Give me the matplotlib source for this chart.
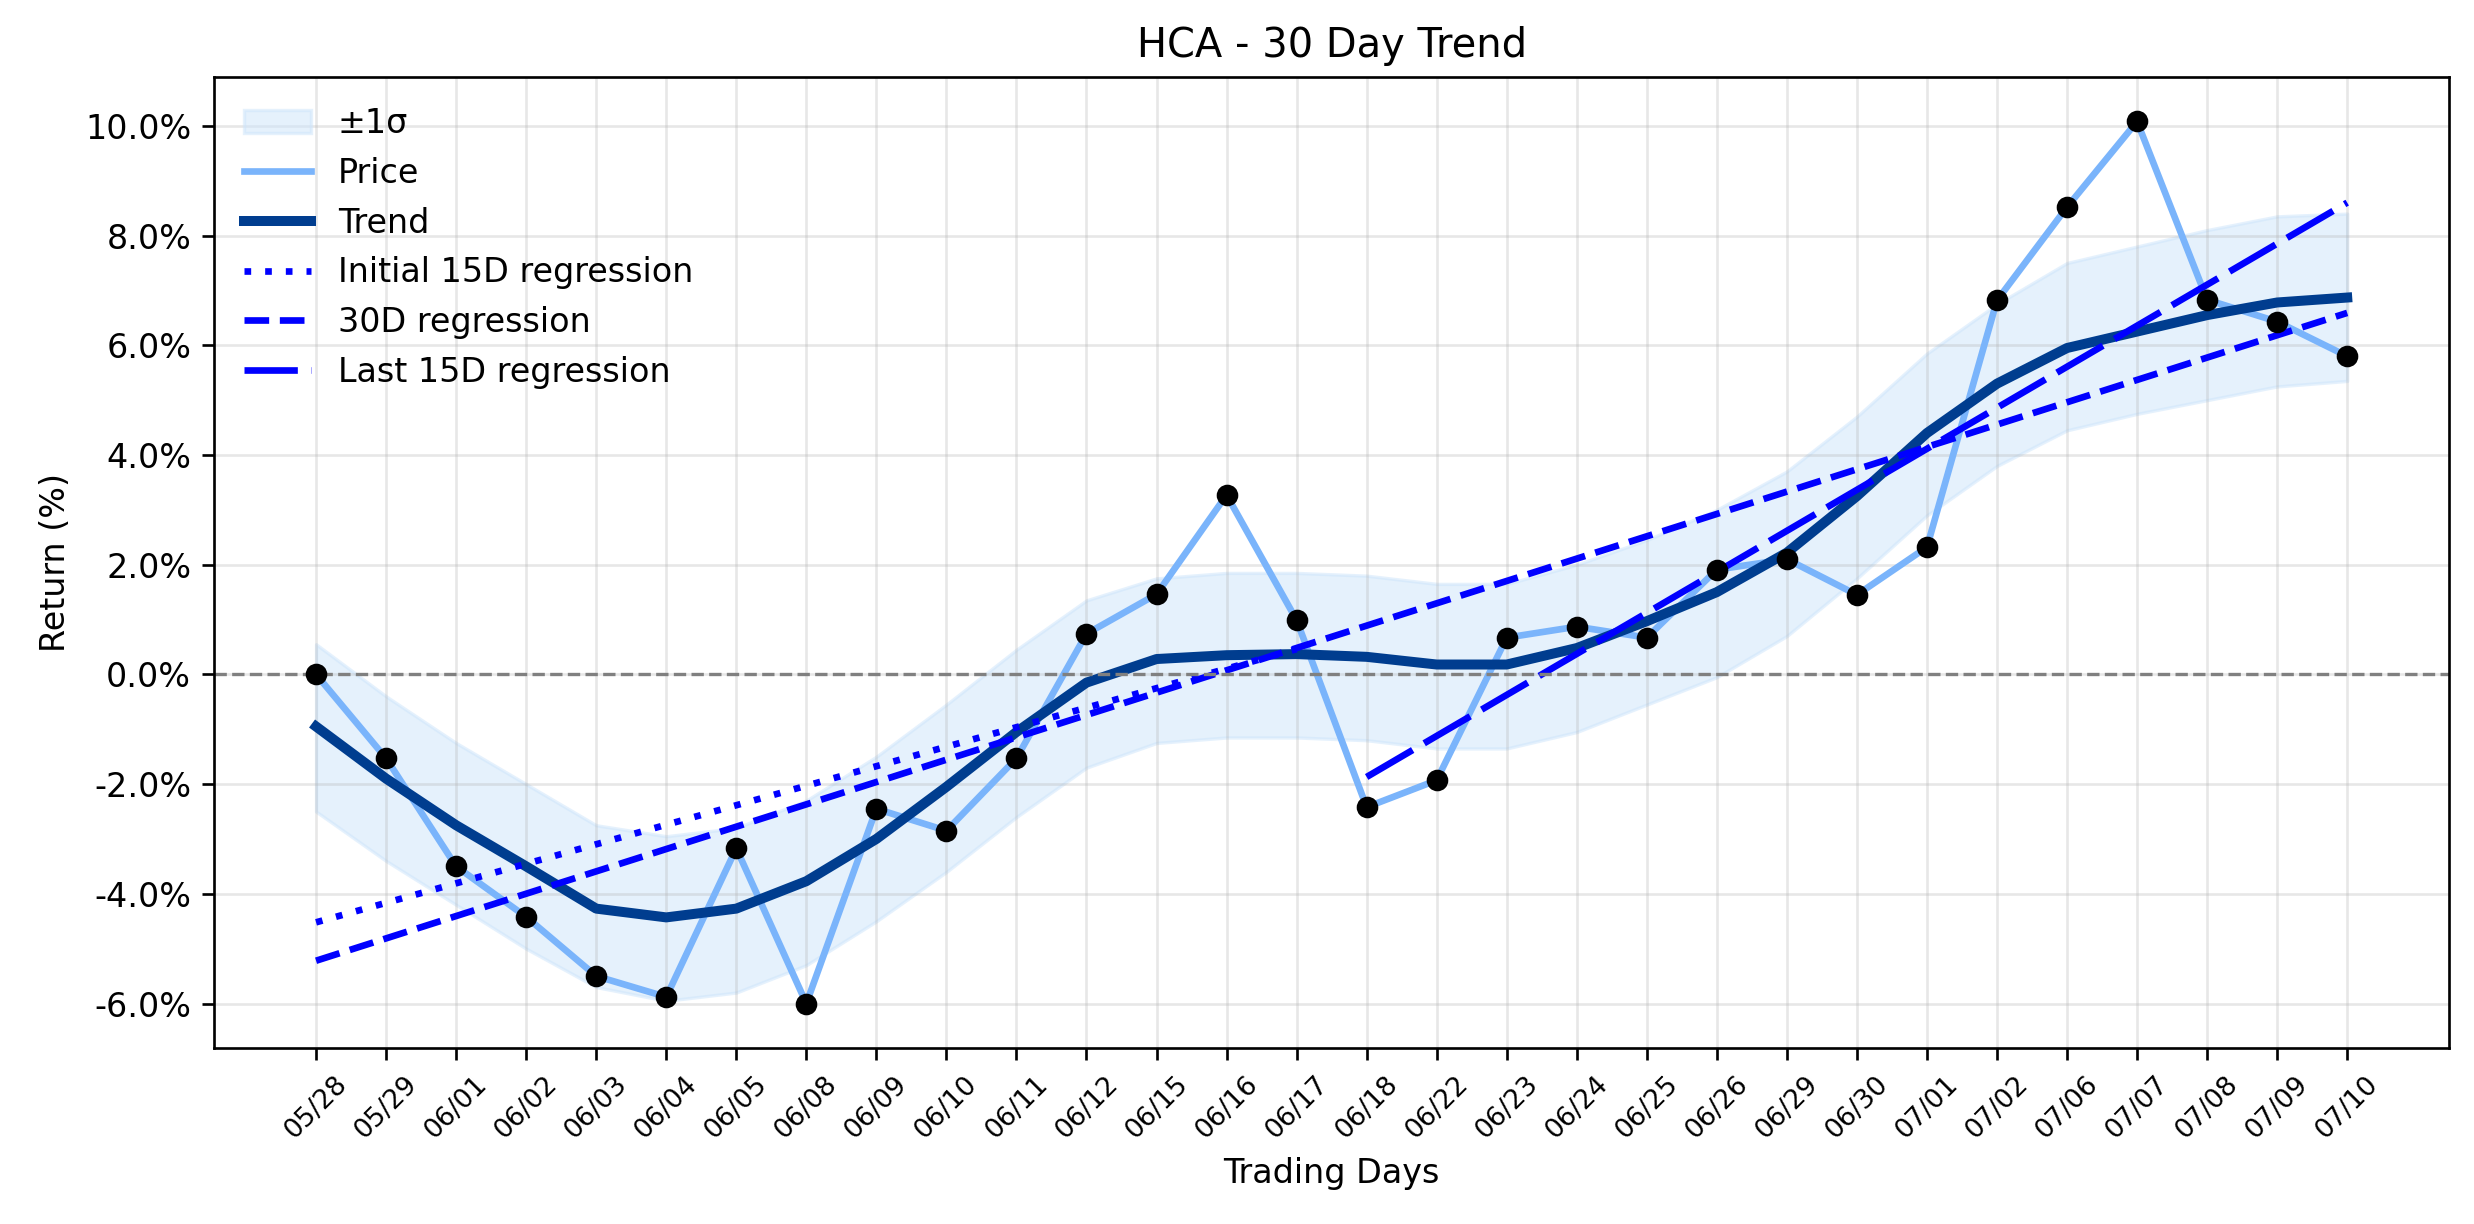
import numpy as np
import matplotlib
matplotlib.use("Agg")
import matplotlib.pyplot as plt
from matplotlib.ticker import FuncFormatter

dates = ['05/28', '05/29', '06/01', '06/02', '06/03', '06/04', '06/05', '06/08', '06/09', '06/10',
         '06/11', '06/12', '06/15', '06/16', '06/17', '06/18', '06/22', '06/23', '06/24', '06/25',
         '06/26', '06/29', '06/30', '07/01', '07/02', '07/06', '07/07', '07/08', '07/09', '07/10']

price = [0.00, -1.53, -3.50, -4.42, -5.50, -5.88, -3.17, -6.00, -2.45, -2.85,
         -1.53, 0.74, 1.46, 3.27, 0.99, -2.42, -1.93, 0.67, 0.87, 0.67,
         1.91, 2.10, 1.45, 2.32, 6.82, 8.52, 10.08, 6.83, 6.43, 5.80]

trend = [-0.95, -1.90, -2.75, -3.50, -4.27, -4.43, -4.27, -3.77, -3.00, -2.05,
         -1.05, -0.15, 0.28, 0.35, 0.37, 0.32, 0.18, 0.18, 0.48, 0.97,
         1.50, 2.22, 3.25, 4.40, 5.30, 5.95, 6.25, 6.55, 6.78, 6.87]

upper = [0.55, -0.40, -1.25, -2.00, -2.75, -2.95, -2.80, -2.30, -1.50, -0.55,
         0.45, 1.35, 1.75, 1.85, 1.85, 1.80, 1.65, 1.65, 2.00, 2.45,
         3.00, 3.70, 4.70, 5.85, 6.75, 7.50, 7.80, 8.10, 8.35, 8.40]

lower = [-2.50, -3.40, -4.20, -5.00, -5.70, -5.95, -5.80, -5.30, -4.50, -3.60,
         -2.60, -1.70, -1.25, -1.15, -1.15, -1.20, -1.35, -1.35, -1.05, -0.55,
         -0.05, 0.70, 1.75, 2.90, 3.80, 4.45, 4.75, 5.00, 5.25, 5.35]

# regression lines: (first index, last index, value at start, value at end)
reg_first15 = (0, 14, -4.52, 0.46)
reg_30 = (0, 29, -5.22, 6.59)
reg_last15 = (15, 29, -1.87, 8.60)

x = np.arange(len(dates))

fig, ax = plt.subplots(figsize=(2474 / 240, 1224 / 240), dpi=240)
fig.subplots_adjust(left=0.0867, right=0.9898, top=0.9368, bottom=0.1441)

ax.fill_between(x, lower, upper, color='#cce4fb', alpha=0.5, label='±1σ')
ax.plot(x, price, color='#7ab4fb', lw=2, label='Price')
ax.plot(x, trend, color='#003d8f', lw=3, label='Trend')


def reg_line(r):
    i0, i1, v0, v1 = r
    xs = np.arange(i0, i1 + 1)
    return xs, np.linspace(v0, v1, len(xs))


xs, ys = reg_line(reg_first15)
ax.plot(xs, ys, color='blue', lw=2, ls=(0, (1, 2.1)), label='Initial 15D regression')
xs, ys = reg_line(reg_30)
ax.plot(xs, ys, color='blue', lw=2, ls='--', label='30D regression')
xs, ys = reg_line(reg_last15)
ax.plot(xs, ys, color='blue', lw=2, ls=(0, (8, 2)), label='Last 15D regression')

ax.scatter(x, price, color='black', s=30, zorder=5)
ax.axhline(0, color='gray', ls='--', lw=1)

ax.set_xticks(x)
ax.set_xticklabels(dates, rotation=45, fontsize=8)
ax.yaxis.set_major_formatter(FuncFormatter(lambda v, p: f'{v:.1f}%'))
ax.grid(True, alpha=0.3)
ax.set_title('HCA - 30 Day Trend', fontsize=12)
ax.set_xlabel('Trading Days')
ax.set_ylabel('Return (%)')
ax.legend(loc='upper left', frameon=False)

fig.savefig('out.png')
